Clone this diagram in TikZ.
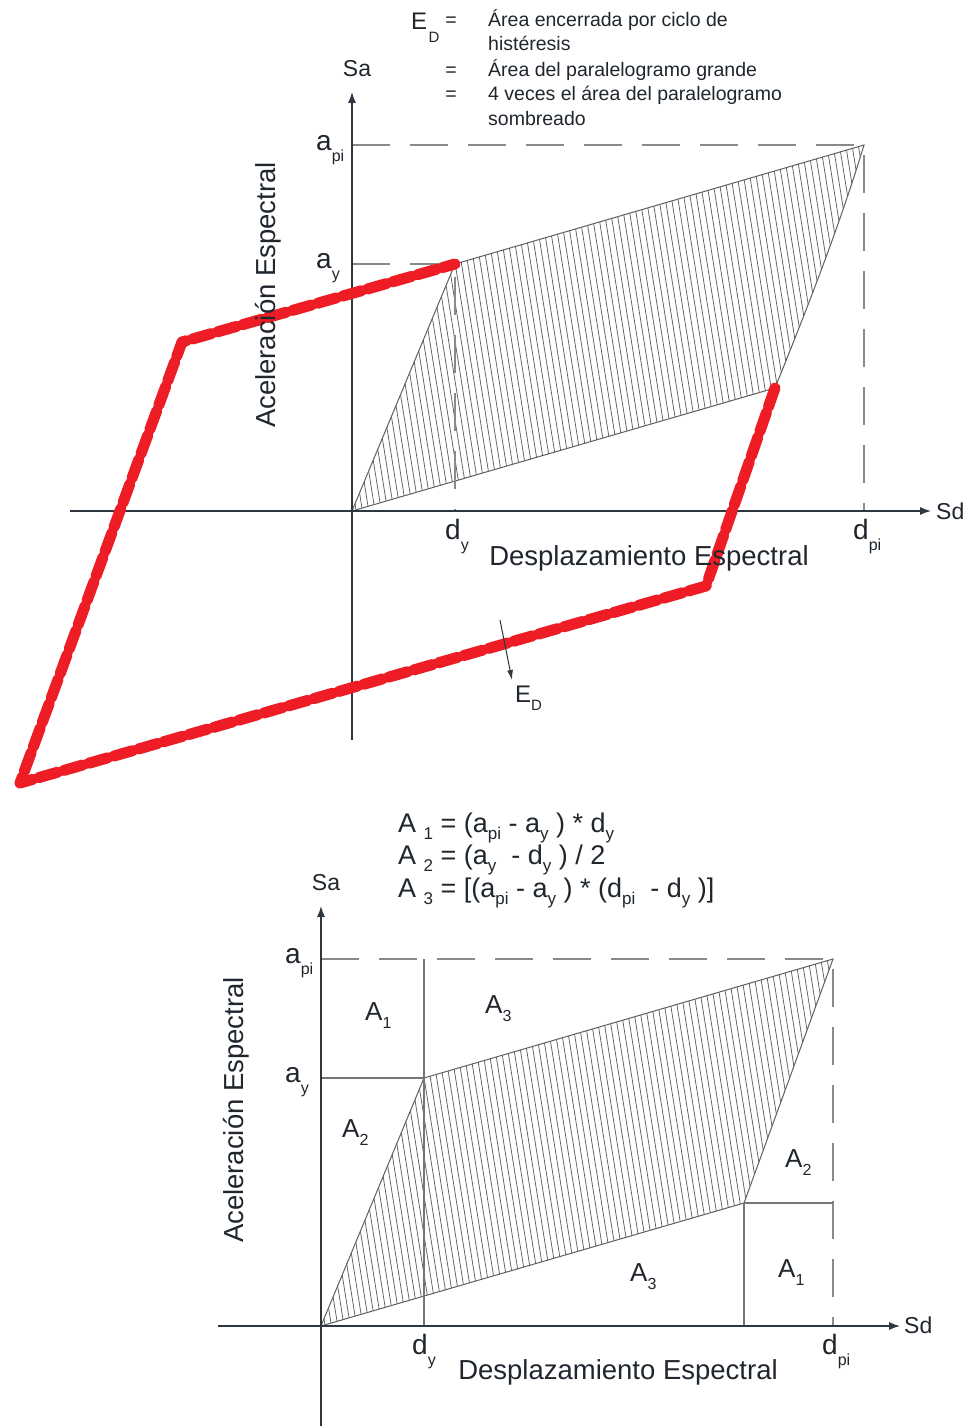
\documentclass[tikz,border=0pt]{standalone}
\usepackage{fontspec}
\setmainfont{Liberation Sans}
\usetikzlibrary{arrows.meta}
\definecolor{txt}{HTML}{1F262E}
\definecolor{axc}{HTML}{2E3640}
\definecolor{dgrey}{HTML}{8A8A8A}
\definecolor{hgrey}{HTML}{606060}
\definecolor{redc}{HTML}{EE1D25}
\newcommand\mysub[2][16]{\raisebox{-0.42em}{\fontsize{#1}{#1}\selectfont #2}}
\newcommand\fsub[1]{\raisebox{-0.27em}{\fontsize{17}{17}\selectfont #1}}
\newcommand\gsub[1]{\raisebox{-0.34em}{\fontsize{16}{16}\selectfont #1}}
\tikzset{
  lblA/.style={font=\fontsize{28}{30}\selectfont, text=txt, inner sep=0pt, anchor=base west},
  lblS/.style={font=\fontsize{23}{25}\selectfont, text=txt, inner sep=0pt},
  lblBig/.style={font=\fontsize{27.5}{30}\selectfont, text=txt, inner sep=0pt},
  lblNote/.style={font=\fontsize{19.5}{22}\selectfont, text=txt, inner sep=0pt, anchor=base west},
  lblForm/.style={font=\fontsize{27}{29}\selectfont, text=txt, inner sep=0pt, anchor=base west},
  lblArea/.style={font=\fontsize{26}{28}\selectfont, text=txt, inner sep=0pt, anchor=base west},
  axisln/.style={draw=axc, line width=1.3pt, -{Latex[length=11pt,width=8pt]}},
  guidedash/.style={draw=dgrey, line width=1.2pt, dash pattern=on 38pt off 20pt},
  guidesolid/.style={draw=dgrey!85!black, line width=1.1pt},
  quadedge/.style={draw=hgrey, line width=1pt},
  hatchln/.style={draw=hgrey, line width=0.75pt},
  redbase/.style={draw=redc, line width=9pt, line cap=round, line join=round},
  redbeads/.style={draw=redc, line width=11pt, line cap=round, line join=round, dash pattern=on 20pt off 6pt},
}
\begin{document}
\begin{tikzpicture}[x=1pt,y=-1pt]
\useasboundingbox (0,0) rectangle (974,1426);
\fill[white] (0,0) rectangle (974,1426);

% ================= TOP DIAGRAM =================
\coordinate (O1) at (352,511);
\coordinate (Y1) at (455,264);
\coordinate (P1) at (864,145);
\coordinate (B1) at (775,388);
\coordinate (ApiAx1) at (352,145);
\coordinate (AyAx1) at (352,264);
\coordinate (DyAx1) at (455,511);
\coordinate (DpiAx1) at (864,511);
\coordinate (VB1) at (352,740);
\coordinate (VT1) at (352,92);
\coordinate (HL1) at (70,511);
\coordinate (HR1) at (931,511);

% hatching
\begin{scope}
  \clip (O1) -- (Y1) -- (P1) .. controls (840,224) and (809,304) .. (B1) -- cycle;
  \foreach \i in {0,...,100} {
    \draw[hatchln] ({270+\i*6.3},130) -- ({270+\i*6.3+64},530);
  }
\end{scope}
\draw[quadedge] (O1) -- (Y1) -- (P1) .. controls (840,224) and (809,304) .. (B1) -- cycle;

% guides
\draw[guidedash] (ApiAx1) -- (P1) -- (DpiAx1);
\draw[guidedash] (AyAx1) -- (Y1) -- (DyAx1);

% axes
\draw[axisln] (HL1) -- (HR1);
\draw[axisln] (VB1) -- (VT1);

% red hysteresis loop
\coordinate (R1) at (706,586);
\coordinate (R2) at (20,783);
\coordinate (R3) at (182,342);
\draw[redbase] (B1) -- (R1) -- (R2) -- (R3) -- (Y1);
\draw[redbeads] (B1) -- (R1) -- (R2) -- (R3) -- (Y1);

% E_D arrow
\coordinate (edA) at (500,620);
\coordinate (edB) at (512,680);
\draw[draw=axc, line width=1pt, -{Latex[length=10pt,width=6pt]}] (edA) -- (edB);
\node[font=\fontsize{24}{26}\selectfont, text=txt, inner sep=0pt, anchor=base west] (edL) at (515,702) {E\raisebox{-8pt}{\fontsize{15}{15}\selectfont D}};

% labels
\node[lblA] (apiT) at (316,150) {a\mysub{pi}};
\node[lblA] (ayT) at (316,268) {a\mysub{y}};
\node[lblA] (dyT) at (445,539) {d\mysub{y}};
\node[lblA] (dpiT) at (853,539) {d\mysub{pi}};
\node[lblS, anchor=west] (sdT) at (936,511) {Sd};
\node[lblS] (saT) at (357,69) {Sa};
\node[lblBig] (xT) at (649,558) {Desplazamiento Espectral};
\node[lblBig, rotate=90] (yT) at (268,295) {Aceleración Espectral};

% note block
\node[font=\fontsize{24}{26}\selectfont, text=txt, inner sep=0pt, anchor=base west] (edTop) at (411,30) {E\hspace{1.5pt}\raisebox{-13pt}{\fontsize{15}{15}\selectfont D}};
\node[lblNote, anchor=base] (eq1) at (451,27) {=};
\node[lblNote, anchor=base] (eq2) at (451,77) {=};
\node[lblNote, anchor=base] (eq3) at (451,101) {=};
\node[lblNote] (n1) at (488,27) {Área encerrada por ciclo de};
\node[lblNote] (n2) at (488,51) {histéresis};
\node[lblNote] (n3) at (488,77) {Área del paralelogramo grande};
\node[lblNote] (n4) at (488,101) {4 veces el área del paralelogramo};
\node[lblNote] (n5) at (488,125) {sombreado};

% ================= BOTTOM DIAGRAM =================
\coordinate (O2) at (321,1326);
\coordinate (Y2) at (424,1078);
\coordinate (P2) at (833,959);
\coordinate (B2) at (744,1203);
\coordinate (ApiAx2) at (321,959);
\coordinate (AyAx2) at (321,1078);
\coordinate (DyTop2) at (424,959);
\coordinate (DyAx2) at (424,1326);
\coordinate (DpiAx2) at (833,1326);
\coordinate (BAx2) at (744,1326);
\coordinate (BRt2) at (833,1203);
\coordinate (VB2) at (321,1426);
\coordinate (VT2) at (321,906);
\coordinate (HL2) at (218,1326);
\coordinate (HR2) at (900,1326);

\begin{scope}
  \clip (O2) -- (Y2) -- (P2) -- (B2) -- cycle;
  \foreach \i in {0,...,100} {
    \draw[hatchln] ({239+\i*6.3},945) -- ({239+\i*6.3+64},1345);
  }
\end{scope}
\draw[quadedge] (O2) -- (Y2) -- (P2) -- (B2) -- cycle;

\draw[guidedash] (ApiAx2) -- (P2) -- (DpiAx2);
\draw[guidesolid] (AyAx2) -- (Y2);
\draw[guidesolid] (DyTop2) -- (DyAx2);
\draw[guidesolid] (B2) -- (BAx2);
\draw[guidesolid] (B2) -- (BRt2);

\draw[axisln] (HL2) -- (HR2);
\draw[axisln] (VB2) -- (VT2);

\node[lblA] (apiB) at (285,963) {a\mysub{pi}};
\node[lblA] (ayB) at (285,1082) {a\mysub{y}};
\node[lblA] (dyB) at (412,1354) {d\mysub{y}};
\node[lblA] (dpiB) at (822,1354) {d\mysub{pi}};
\node[lblS, anchor=west] (sdB) at (904,1325) {Sd};
\node[lblS] (saB) at (326,883) {Sa};
\node[lblBig] (xB) at (618,1372) {Desplazamiento Espectral};
\node[lblBig, rotate=90] (yB) at (236,1110) {Aceleración Espectral};

\node[lblArea] (a1u) at (365,1020) {A\gsub{1}};
\node[lblArea] (a3u) at (485,1013) {A\gsub{3}};
\node[lblArea] (a2l) at (342,1137) {A\gsub{2}};
\node[lblArea] (a2r) at (785,1167) {A\gsub{2}};
\node[lblArea] (a3d) at (630,1281) {A\gsub{3}};
\node[lblArea] (a1d) at (778,1277) {A\gsub{1}};

\node[lblForm] (f1) at (398,832) {A \fsub{1} = (a\fsub{pi} - a\fsub{y} ) * d\fsub{y}};
\node[lblForm] (f2) at (398,864) {A \fsub{2} = (a\fsub{y}\ \ - d\fsub{y} ) / 2};
\node[lblForm] (f3) at (398,897) {A \fsub{3} = [(a\fsub{pi} - a\fsub{y} ) * (d\fsub{pi}\ \ - d\fsub{y} )]};
\end{tikzpicture}
\end{document}
